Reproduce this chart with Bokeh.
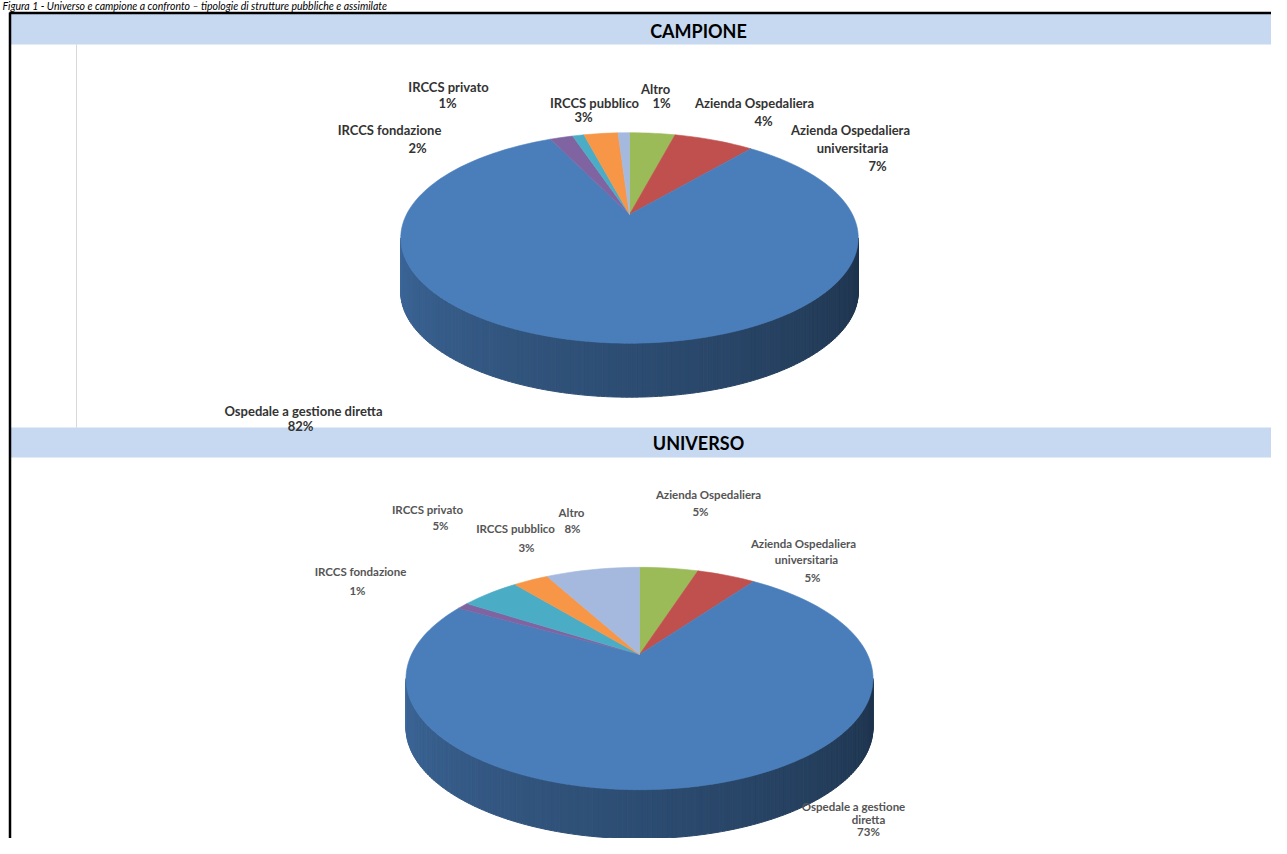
import numpy as np
from bokeh.plotting import figure
from bokeh.models import Range1d, ColumnDataSource
from bokeh.embed import file_html
from bokeh.resources import INLINE
from bokeh.core.properties import value

# ---------------- data ----------------
categories = ["Azienda Ospedaliera", "Azienda Ospedaliera universitaria",
              "Ospedale a gestione diretta", "IRCCS fondazione",
              "IRCCS privato", "IRCCS pubblico", "Altro"]
campione_pct = [4, 7, 82, 2, 1, 3, 1]
universo_pct = [5, 5, 73, 1, 5, 3, 8]
slice_colors = ["#9BBB59", "#C0504D", "#4A7EBB", "#8064A2", "#4BACC6", "#F79646", "#A5B8DD"]
caption = "Figura 1 - Universo e campione a confronto \u2013 tipologie di strutture pubbliche e assimilate"
panel_titles = ["CAMPIONE", "UNIVERSO"]

# label line breaks
camp_name_lines = [["Azienda Ospedaliera"], ["Azienda Ospedaliera", "universitaria"],
                   ["Ospedale a gestione diretta"], ["IRCCS fondazione"],
                   ["IRCCS privato"], ["IRCCS pubblico"], ["Altro"]]
univ_name_lines = [["Azienda Ospedaliera"], ["Azienda Ospedaliera", "universitaria"],
                   ["Ospedale a gestione", "diretta"], ["IRCCS fondazione"],
                   ["IRCCS privato"], ["IRCCS pubblico"], ["Altro"]]

# ---------------- layout (positions of label lines) ----------------
camp_label_pos = [
    [(754, 102), (763, 120)],
    [(850, 129), (852, 147), (877, 165)],
    [(303, 410), (300, 425)],
    [(389, 129), (417, 147)],
    [(448, 86), (447, 102)],
    [(594, 102), (583, 116)],
    [(655, 88), (661, 102)],
]
univ_label_pos = [
    [(708, 494), (700, 511)],
    [(803, 543), (806, 559), (812, 577)],
    [(853, 806), (868, 819), (868, 831)],
    [(360, 571), (357, 590)],
    [(427, 509), (440, 525)],
    [(515, 528), (526, 547)],
    [(571, 512), (572, 528)],
]

W, H = 1271, 838
p = figure(width=W, height=H, x_range=Range1d(0, W), y_range=Range1d(H, 0),
           output_backend="svg", toolbar_location=None, min_border=0)
p.axis.visible = False
p.grid.visible = False
p.outline_line_color = None
p.background_fill_color = "white"
p.border_fill_color = "white"

# ---------------- table frame ----------------
BAND = "#C6D9F1"
p.quad(left=[10, 10], right=[1300, 1300], top=[13.5, 427], bottom=[44, 457],
       fill_color=BAND, line_color=None)
p.segment(x0=[9], y0=[12.5], x1=[1300], y1=[12.5], line_color="black", line_width=2.5)
p.segment(x0=[9.5], y0=[12], x1=[9.5], y1=[900], line_color="black", line_width=2.5)
p.segment(x0=[76], y0=[44], x1=[76], y1=[427], line_color="#D8D8D8", line_width=1)

font = value("Lato")
p.text(x=[2], y=[5.5], text=[caption], text_font=font, text_font_size=value("10.5px"),
       text_font_style="italic", text_align="left", text_baseline="middle",
       text_color="black")
p.text(x=[698, 698], y=[30, 442], text=panel_titles, text_font=font,
       text_font_size=value("18px"), text_font_style="bold", text_align="center",
       text_baseline="middle", text_color="black")


def hex_to_rgb(h):
    h = h.lstrip("#")
    return tuple(int(h[i:i + 2], 16) for i in (0, 2, 4))


def draw_pie(vals, cx, cy, A, B, persp, depth):
    frac = np.array(vals, dtype=float) / float(sum(vals))
    edges = np.concatenate([[0.0], np.cumsum(frac)]) * 2 * np.pi

    def proj(t):
        u, v = np.sin(t), np.cos(t)
        den = 1 + persp * v
        return cx + A * u / den, cy - B * v / den

    # side (visible front arc between silhouette points)
    angR = np.arccos(-persp)
    angL = 2 * np.pi - angR
    bnds = np.linspace(angR, angL, 160)
    inner = [e for e in edges if angR < e < angL]
    bnds = np.unique(np.concatenate([bnds, inner]))
    sx, sy, sc = [], [], []
    for t0, t1 in zip(bnds[:-1], bnds[1:]):
        mid = 0.5 * (t0 + t1)
        idx = min(int(np.searchsorted(edges, mid) - 1), len(vals) - 1)
        f = 0.40 + 0.42 * (mid - angR) / (angL - angR)
        r, g, b = hex_to_rgb(slice_colors[idx])
        col = "#%02x%02x%02x" % (int(r * f), int(g * f), int(b * f))
        ts = np.linspace(t0, t1, 3)
        tx, ty = proj(ts)
        sx.append(list(tx) + list(tx[::-1]))
        sy.append(list(ty) + list((ty + depth)[::-1]))
        sc.append(col)
    p.patches(xs="xs", ys="ys", fill_color="c", line_color="c", line_width=1,
              source=ColumnDataSource(dict(xs=sx, ys=sy, c=sc)))

    # top faces
    txs, tys = [], []
    for i in range(len(vals)):
        n = max(3, int(200 * frac[i]))
        ts = np.linspace(edges[i], edges[i + 1], n)
        px, py = proj(ts)
        txs.append([cx] + list(px))
        tys.append([cy] + list(py))
    p.patches(xs="xs", ys="ys", fill_color="c", line_color="c", line_width=0.6,
              source=ColumnDataSource(dict(xs=txs, ys=tys, c=slice_colors[:len(vals)])))


draw_pie(campione_pct, 629, 214, 223, 100, 0.223, 54)
draw_pie(universo_pct, 639, 654, 228, 106, 0.216, 49)


def draw_labels(name_lines, pcts, pos, size, color):
    xs, ys, tx = [], [], []
    for lines, pc, pp in zip(name_lines, pcts, pos):
        texts = lines + ["%d%%" % pc]
        for t, (x, y) in zip(texts, pp):
            xs.append(x)
            ys.append(y)
            tx.append(t)
    p.text(x="x", y="y", text="t", source=ColumnDataSource(dict(x=xs, y=ys, t=tx)),
           text_font=font, text_font_size=value(size), text_font_style="bold",
           text_align="center", text_baseline="middle", text_color=color)


draw_labels(camp_name_lines, campione_pct, camp_label_pos, "13px", "#333333")
draw_labels(univ_name_lines, universo_pct, univ_label_pos, "11.5px", "#555555")

open("out.html", "w").write(file_html(p, INLINE))
